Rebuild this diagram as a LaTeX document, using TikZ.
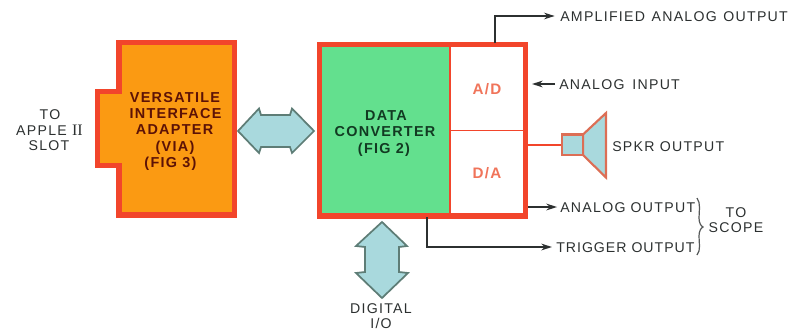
\documentclass[tikz,border=0pt]{standalone}
\usepackage{fontspec}
\setmainfont{Liberation Sans}[LetterSpace=9]
\newfontfamily\romanII{Liberation Serif}
\usetikzlibrary{arrows.meta}
\definecolor{redline}{HTML}{F2452B}
\definecolor{orangefill}{HTML}{FB9A12}
\definecolor{greenfill}{HTML}{63E08E}
\definecolor{bluefill}{HTML}{A9D9DD}
\definecolor{busline}{HTML}{5E7D76}
\definecolor{spkline}{HTML}{DC6E55}
\definecolor{inkdark}{HTML}{2C3030}
\definecolor{viatext}{HTML}{5C1206}
\definecolor{dctext}{HTML}{123A22}
\definecolor{adtext}{HTML}{F0745A}
\tikzset{
  lab/.style={font=\fontsize{10.6}{12}\selectfont, text=inkdark, inner sep=0pt, text height=7.6pt, text depth=0pt},
  lableft/.style={lab, anchor=west},
  blocktxt/.style={font=\fontsize{10.8}{12}\selectfont\bfseries, inner sep=0pt, text height=7.6pt, text depth=0pt},
  adlab/.style={font=\fontsize{11.4}{12}\selectfont\bfseries, text=adtext, inner sep=0pt, text height=8pt, text depth=0pt},
  redbox/.style={draw=redline, line width=3.8pt, line join=miter},
  sig/.style={draw=inkdark, line width=1.5pt, -{Stealth[length=8pt,width=5pt]}},
  busarrow/.style={draw=busline, fill=bluefill, line width=1.3pt, line join=miter},
  spk/.style={draw=spkline, fill=bluefill, line width=1.6pt, line join=miter},
}
\begin{document}
\begin{tikzpicture}[x=0.75pt,y=-0.75pt]
\useasboundingbox (0,0) rectangle (804,333);
% VIA block
\draw[redbox, fill=orangefill] (119,42.5) -- (234.5,42.5) -- (234.5,215) -- (119,215) -- (119,165.5) -- (97.5,165.5) -- (97.5,91.5) -- (119,91.5) -- cycle;
\node[blocktxt, text=viatext] (via1) at (175,97.5) {VERSATILE};
\node[blocktxt, text=viatext] (via2) at (175.5,113.5) {INTERFACE};
\node[blocktxt, text=viatext] (via3) at (174.5,129.5) {ADAPTER};
\node[blocktxt, text=viatext] (via4) at (175,146) {(VIA)};
\node[blocktxt, text=viatext] (via5) at (170.5,162.5) {(FIG 3)};
% Converter block
\fill[greenfill] (319.5,44.5) rectangle (450,216);
\draw[redline, line width=1.4pt] (450,44.5) -- (450,216);
\draw[redline, line width=1.4pt] (450,130.5) -- (525.5,130.5);
\draw[redbox] (319.5,44.5) rectangle (525.5,216);
\node[blocktxt, text=dctext] (dc1) at (386,115) {DATA};
\node[blocktxt, text=dctext] (dc2) at (385,131.5) {CONVERTER};
\node[blocktxt, text=dctext] (dc3) at (384,148) {(FIG 2)};
\node[adlab] (ad) at (487,89.5) {A/D};
\node[adlab] (da) at (487,173) {D/A};
% Double arrows
\draw[busarrow] (238,131) -- (259,108.5) -- (261,115) -- (290,115) -- (292,108.5) -- (314,131) -- (292,153) -- (290,147) -- (261,147) -- (259,153) -- cycle;
\draw[busarrow] (382,222) -- (407,246) -- (399,247) -- (399,272) -- (408,273) -- (382,298) -- (356,273) -- (365,272) -- (365,247) -- (356,246) -- cycle;
% Speaker
\coordinate (spkout) at (527,145);
\draw[redline, line width=2pt] (spkout) -- (562,145);
\draw[spk] (583,134.5) -- (606,113) -- (606,177.5) -- (583,155) -- cycle;
\draw[spk] (562,134.5) rectangle (583,155);
\node[lableft] (spklab) at (612,146) {SPKR OUTPUT};
% Outputs
\coordinate (ampstart) at (495,43);
\node[lableft] (amp) at (560,16) {AMPLIFIED\hspace{1pt} ANALOG\hspace{1pt} OUTPUT};
\draw[sig, shorten >=4pt] (ampstart) |- (amp.west);
\node[lableft] (ain) at (559,84) {ANALOG\hspace{2pt} INPUT};
\coordinate (ainend) at (532,84);
\draw[sig] (ain.west) ++(-4,0) -- (ainend);
\node[lableft] (aout) at (560,207) {ANALOG OUTPUT};
\coordinate (aoutstart) at (528,207);
\draw[sig, shorten >=2.2pt] (aoutstart) -- (aout.west);
\node[lableft] (trig) at (556,247) {\addfontfeatures{LetterSpace=7}TRIGGER OUTPUT};
\coordinate (trigstart) at (427,217);
\draw[sig, shorten >=3pt] (trigstart) |- (trig.west);
% Brace
\draw[draw=inkdark!80, line width=0.9pt] (697,198) .. controls (701,203) and (699,212) .. (699,218) .. controls (699,223) and (701,226) .. (703,227) .. controls (701,228) and (699,231) .. (699,236) .. controls (699,243) and (701,250) .. (697,255);
\node[lab] (sc1) at (736,212) {TO};
\node[lab] (sc2) at (736,227.5) {SCOPE};
% Other labels
\node[lab] (dig1) at (381,308.5) {DIGITAL};
\node[lab] (dig2) at (381,323.5) {I/O};
\node[lab] (ap1) at (50,114.5) {TO};
\node[lab] (ap2) at (49.5,130) {APPLE\hspace{4pt}{\romanII\fontsize{12}{12}\selectfont II}};
\node[lab] (ap3) at (49,145) {SLOT};
\end{tikzpicture}
\end{document}
